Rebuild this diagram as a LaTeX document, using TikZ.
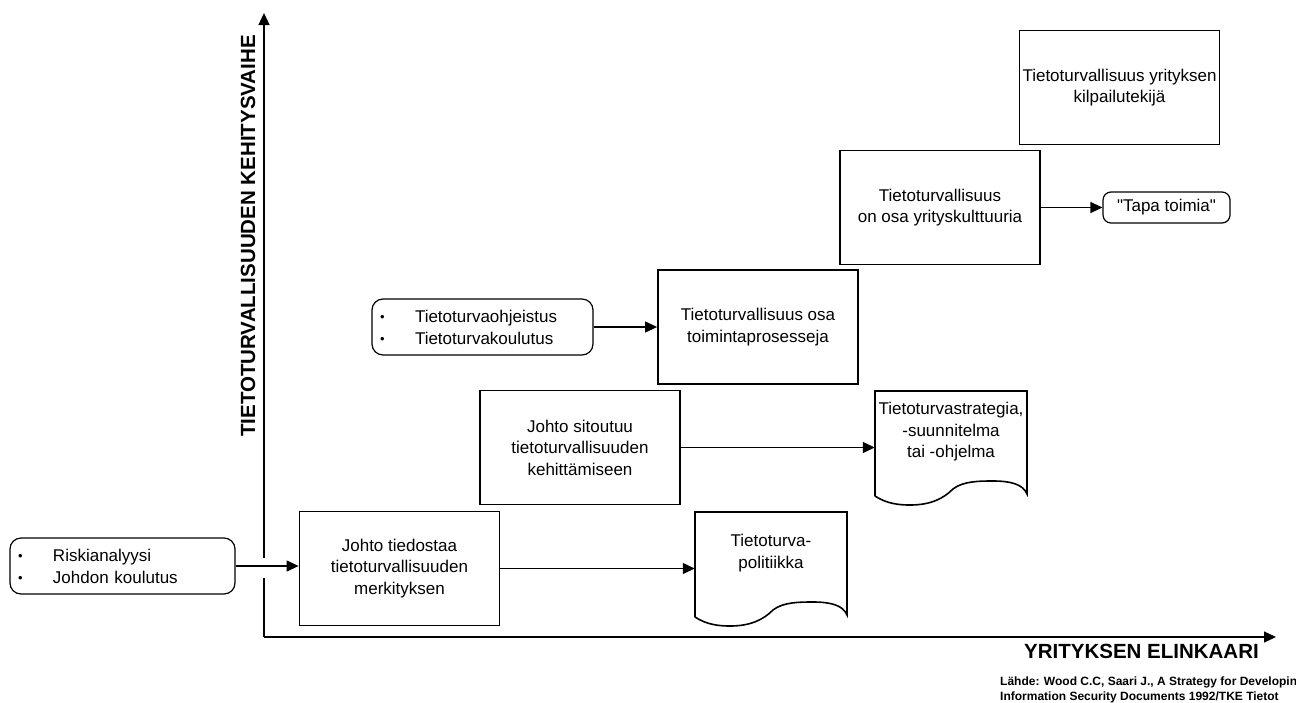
\documentclass[tikz,border=0pt]{standalone}
\usepackage{fontspec}
\setmainfont{Liberation Sans}[Ligatures=TeXOff]
\usetikzlibrary{arrows.meta,calc}
% small bullet followed by a fixed gap before the item text
\newcommand\itembullet{\makebox[35pt][l]{\raisebox{0.5pt}{\fontsize{13}{13}\selectfont\textbullet}}}
\begin{document}
\begin{tikzpicture}[x=1pt,y=-1pt,
  txt/.style={font=\fontsize{17}{21.5}\selectfont},
  stage/.style={txt,draw,line width=1.8pt,align=center,minimum width=200pt,minimum height=114pt,inner sep=0pt},
  pill/.style={txt,draw,line width=1.2pt,rounded corners=11pt,inner sep=0pt},
  bulletbox/.style={pill,align=left,inner xsep=8pt,minimum height=56pt,font=\fontsize{17}{22}\selectfont},
  doctext/.style={txt,align=center,minimum width=152pt,inner sep=0pt},
  docline/.style={line width=1.6pt,line join=miter},
  tip/.style={-{Triangle[length=12pt,width=11pt]}},
  conn/.style={line width=1.2pt,tip},
  axis/.style={line width=1.3pt},
  axislabel/.style={font=\bfseries\fontsize{20.5}{24}\selectfont,inner sep=0pt},
  srctext/.style={font=\bfseries\fontsize{12}{15}\selectfont,inner sep=0pt,anchor=base west},
]
\useasboundingbox (0,0) rectangle (1296,702);

% axes (the vertical one is broken where the first connector crosses it)
\coordinate (O) at (264,637);
\coordinate (ytop) at (264,13);
\coordinate (xend) at (1276,637);
\coordinate (gaplo) at (264,578);
\coordinate (gaphi) at (264,558);
\draw[axis] (O) -- (gaplo);
\draw[axis,tip] (gaphi) -- (ytop);
\draw[axis,tip] (O) -- (xend);

\node[axislabel,rotate=90,anchor=base] (ylab) at (255,236) {TIETOTURVALLISUUDEN KEHITYSVAIHE};
\node[axislabel,anchor=base] (xlab) at (1141.5,658) {YRITYKSEN ELINKAARI};

% stages
\node[bulletbox,text width=209pt] (r1) at (122.5,566) {\itembullet Riskianalyysi\\\itembullet Johdon koulutus};
\node[stage] (b2) at (399.5,568.5) {Johto tiedostaa\\tietoturvallisuuden\\merkityksen};
\node[doctext] (d3) at (771,553) {Tietoturva-\\politiikka};
\node[stage] (b4) at (580,447.5) {Johto sitoutuu\\tietoturvallisuuden\\kehittämiseen};
\node[doctext] (d5) at (951,432) {Tietoturvastrategia,\\-suunnitelma\\tai -ohjelma};
\node[bulletbox,text width=205pt] (r6) at (482.5,327) {\itembullet Tietoturvaohjeistus\\\itembullet Tietoturvakoulutus};
\node[stage] (b7) at (758,327) {Tietoturvallisuus osa\\toimintaprosesseja};
\node[stage] (b8) at (940,207.5) {Tietoturvallisuus\\on osa yrityskulttuuria};
\node[pill,rounded corners=8pt,minimum width=127pt,minimum height=31pt] (r9) at (1166.5,207.5) {"Tapa toimia"};
\node[stage] (b10) at (1119.5,87.5) {Tietoturvallisuus yrityksen\\kilpailutekijä};

% document outlines with a wavy lower edge
\foreach \d in {d3,d5}{
  \begin{scope}[shift={($(\d.center)+(-76,-41)$)}]
    \draw[docline] (0,105) -- (0,0) -- (152,0) -- (152,103)
      .. controls (148,93) and (135,90) .. (118,90)
      .. controls (105,90) and (88,90) .. (78,98)
      .. controls (68,108) and (55,114) .. (35,114)
      .. controls (25,114) and (12,113) .. (0,105);
  \end{scope}
}

% connectors
\draw[conn] (r1.east) -- (r1.east -| b2.west);
\draw[conn] (b2.east) -- (b2.east -| d3.west);
\draw[conn] (b4.east) -- (b4.east -| d5.west);
\draw[conn] (r6.east) -- (r6.east -| b7.west);
\draw[conn] (b8.east) -- (b8.east -| r9.west);

% source reference
\node[srctext] (src1) at (1000,685) {Lähde: Wood C.C, Saari J., A Strategy for Developin};
\node[srctext] (src2) at (1000,700) {Information Security Documents 1992/TKE Tietot};
\end{tikzpicture}
\end{document}
